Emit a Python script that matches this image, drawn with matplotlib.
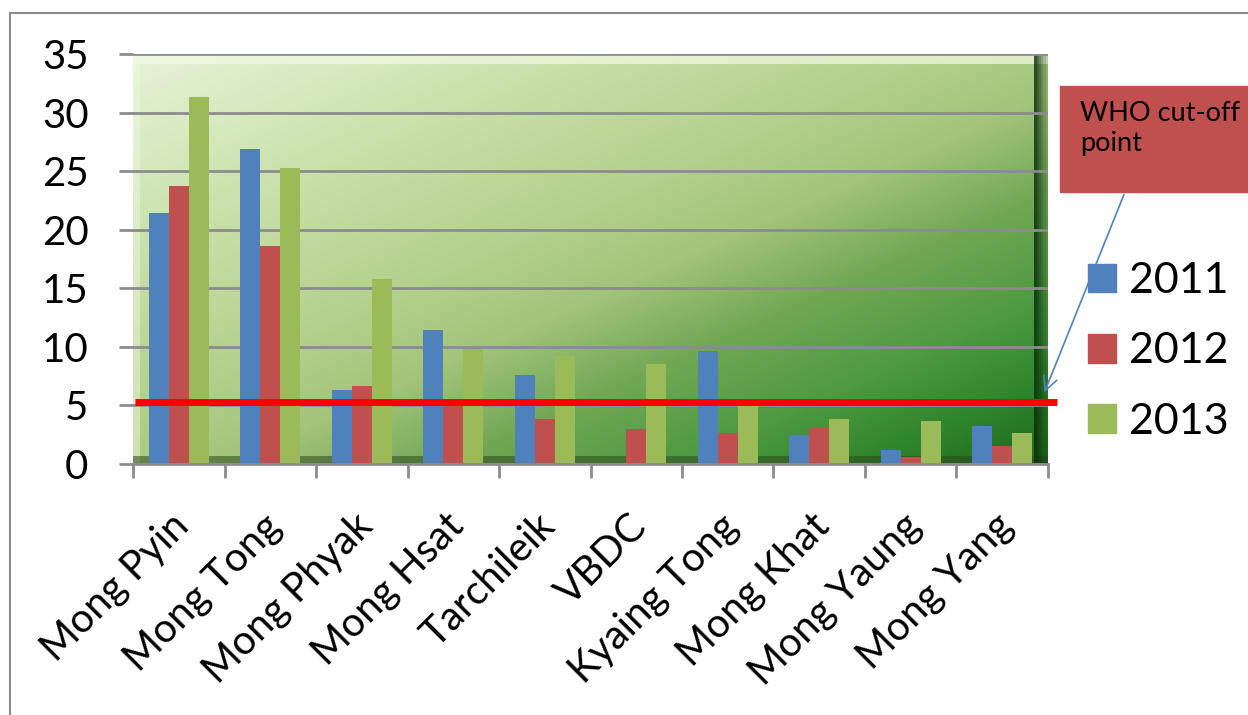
import numpy as np
import matplotlib.pyplot as plt
from matplotlib.patches import Patch, Rectangle
from matplotlib.colors import LinearSegmentedColormap
import matplotlib.transforms as mtransforms

plt.rcParams['font.family'] = ['Lato', 'DejaVu Sans']

townships = ["Mong Pyin", "Mong Tong", "Mong Phyak", "Mong Hsat", "Tarchileik",
             "VBDC", "Kyaing Tong", "Mong Khat", "Mong Yaung", "Mong Yang"]
years = ["2011", "2012", "2013"]
rate_2011 = [21.4, 26.9, 6.3, 11.4, 7.6, 0.0, 9.65, 2.5, 1.2, 3.25]
rate_2012 = [23.7, 18.6, 6.7, 5.0, 3.8, 3.0, 2.65, 3.1, 0.57, 1.55]
rate_2013 = [31.3, 25.3, 15.8, 9.8, 9.2, 8.5, 5.0, 3.85, 3.7, 2.65]
who_cutoff = 5.3

colors = ["#4f81bd", "#c0504d", "#9bbb59"]

fig = plt.figure(figsize=(12.48, 7.15), dpi=100)
ax = fig.add_axes([133/1248, 1-464/715, (1048-133)/1248, (464-54)/715])

# green gradient plot area, light top-left to dark bottom-right
cmap = LinearSegmentedColormap.from_list("plotarea", [
    (0.0, "#e6f4d8"), (0.25, "#c8e0a8"), (0.45, "#b2cf8a"), (0.55, "#a3c47a"),
    (0.67, "#72a855"), (0.8, "#4d9a40"), (0.9, "#2f852b"), (1.0, "#1c6a1c")])
gx, gy = np.meshgrid(np.linspace(0, 1, 400), np.linspace(0, 1, 300))
grad = (gx + gy) / 2
ax.imshow(grad, cmap=cmap, extent=(-0.5, 9.5, 0, 35), aspect='auto', zorder=0,
          vmin=0, vmax=1, interpolation='bilinear')

# bevel edges
ax.add_patch(Rectangle((0, 0.975), 1, 0.025, transform=ax.transAxes, color="#f2fae6", alpha=0.7, zorder=0.5, lw=0))
ax.add_patch(Rectangle((0, 0), 0.008, 1, transform=ax.transAxes, color="#eef7e2", alpha=0.5, zorder=0.5, lw=0))
ax.add_patch(Rectangle((0, 0), 1, 0.02, transform=ax.transAxes, color="#2d4a1c", alpha=0.55, zorder=0.5, lw=0))
for k in range(6):
    ax.add_patch(Rectangle((1 - 0.0025 * (k + 1), 0), 0.0025, 1, transform=ax.transAxes,
                           color="#0a2e0a", alpha=0.15 + 0.13 * k, zorder=0.5, lw=0))

x = np.arange(len(townships))
w = 0.22
for i, (vals, c) in enumerate(zip([rate_2011, rate_2012, rate_2013], colors)):
    ax.bar(x + (i - 1) * w, vals, width=w, color=c, zorder=2, label=years[i])

ax.set_xlim(-0.5, 9.5)
ax.set_ylim(0, 35)
ax.set_yticks(range(0, 36, 5))
ax.tick_params(axis='y', labelsize=29, length=10, width=2, color="#8c8c8c", pad=22)
ax.grid(axis='y', color="#8c8c8c", lw=2, zorder=1)
ax.set_axisbelow(True)

ax.set_xticks(x)
ax.set_xticklabels([])
ax.tick_params(axis='x', which='major', length=0)
ax.set_xticks(np.arange(-0.5, 10, 1), minor=True)
ax.tick_params(axis='x', which='minor', length=10, width=2, color="#8c8c8c")

for s in ["top", "right", "left"]:
    ax.spines[s].set_visible(False)
ax.spines["bottom"].set_color("#8c8c8c")
ax.spines["bottom"].set_linewidth(2)

# rotated category labels
trans = mtransforms.blended_transform_factory(ax.transData, ax.transAxes)
for i, name in enumerate(townships):
    ax.text(i + 0.05, -0.137, name, transform=trans, rotation=45, rotation_mode='anchor',
            ha='right', va='center', fontsize=29)

# WHO cut-off line
ax.hlines(who_cutoff, -0.48, 9.6, color="#ff0000", lw=5, zorder=3, clip_on=False)

# callout box and arrow
fig.patches.append(Rectangle((1060/1248, 1-192/715), 188/1248, 106/715,
                             transform=fig.transFigure, color="#c0504d", zorder=1))
fig.text(1080/1248, 1-101/715, "WHO cut-off\npoint", fontsize=19.5, va='top', ha='left', linespacing=1.25)
ax.annotate("", xy=(9.45, 5.9), xycoords='data', xytext=(1125/1248, 1-192/715),
            textcoords='figure fraction',
            arrowprops=dict(arrowstyle="->", color="#4f81bd", lw=1.2, mutation_scale=25),
            annotation_clip=False)

# outer frame
fig.add_artist(plt.Line2D([10/1248, 10/1248], [0, 1-13/715], color="#8c8c8c", lw=1.5))
fig.add_artist(plt.Line2D([10/1248, 1], [1-13/715, 1-13/715], color="#8c8c8c", lw=1.5))

handles = [Patch(color=c) for c in colors]
fig.legend(handles, years, loc='upper left', bbox_to_anchor=(1088/1248, 1-262/715),
           fontsize=31, frameon=False, handlelength=0.65, handleheight=0.65,
           handletextpad=0.3, labelspacing=0.75, borderaxespad=0, borderpad=0)

fig.savefig("out.png", dpi=100)
